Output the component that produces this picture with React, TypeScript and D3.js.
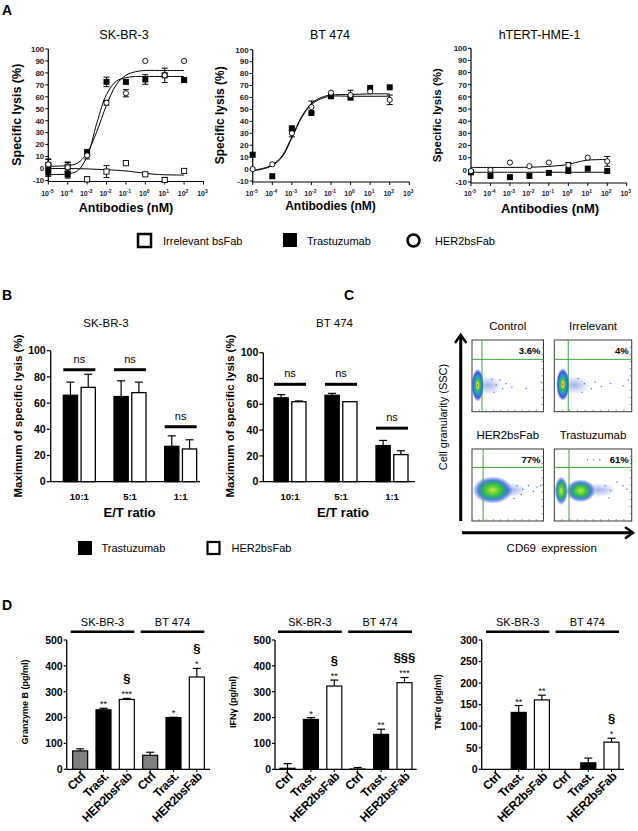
import React from 'react';
import * as d3 from 'd3';

const FONT = "'Liberation Sans', Arial, Helvetica, sans-serif";

// ---------------- Panel A data ----------------
const doseExps = [-5, -4, -3, -2, -1, 0, 1, 2];
const axisExps = [-5, -4, -3, -2, -1, 0, 1, 2, 3];
const lysisTicks = [-10, 0, 10, 20, 30, 40, 50, 60, 70, 80, 90, 100];

const skTrast = [-3.5, -5, 13, 72.5, 72.5, 74.5, 78, 74];
const skTrastErr = [3, 3, 3, 4, 1, 4, 6, 1];
const skHer2 = [3.5, 1, 11, 55, 63, 90, 78, 90];
const skHer2Err = [4, 4, 3, 2, 3, 1, 1, 1];
const skIrr = [3, 1.5, -9, -2.5, 4.5, -4.8, -9.5, -2];
const skIrrErr = [5, 4, 2, 5, 1, 1, 2, 1];
const skTrastFit = [[-5, -5], [-4.5, -5], [-4, -4.5], [-3.5, -2], [-3, 10], [-2.5, 38], [-2, 62], [-1.5, 73], [-1, 76], [-0.5, 77], [0, 77], [1, 77], [2, 77]];
const skHer2Fit = [[-5, 2], [-4, 2.5], [-3.5, 4.5], [-3, 13], [-2.5, 31], [-2, 53], [-1.5, 70], [-1, 78], [-0.5, 81], [0, 82], [1, 82], [2, 82]];
const skIrrFit = [[-5, 0], [-4, 0], [-3, -0.3], [-2, -1], [-1, -2], [-0.5, -3], [0, -4], [0.5, -4.8], [1, -5.2], [2, -5.5]];

const btTrast = [12, -6, 34, 47, 61, 60, 68, 68.5];
const btTrastErr = [1, 1, 2, 1, 1, 1, 1, 1];
const btHer2 = [0, 4, 30, 52, 64, 62, 65, 58];
const btHer2Err = [1, 1, 3, 5, 1, 4, 1, 4];
const btTrastFit = [[-5, -1], [-4.5, 0.5], [-4, 3.5], [-3.5, 11], [-3, 27], [-2.5, 44], [-2, 55], [-1.5, 60], [-1, 62], [0, 62.5], [1, 63], [2, 63]];
const btHer2Fit = [[-5, -1.5], [-4.5, 0], [-4, 3], [-3.5, 10], [-3, 26], [-2.5, 43], [-2, 54], [-1.5, 59], [-1, 61], [0, 61], [1, 61], [2, 61]];

const htTrast = [-2, -5, -6, -5, -2.5, -1, 1, -1];
const htTrastErr = [1, 1, 1, 1, 1, 1, 1, 1];
const htHer2 = [-1, 0, 6, 3, 6, 4, 10, 7];
const htHer2Err = [1, 1, 1, 1, 1, 2, 1, 4];
const htTrastFit = [[-5, -2], [-3, -2], [-1, -2], [0, -2], [1, -2], [2, -2]];
const htHer2Fit = [[-5, 2], [-3, 2], [-2, 2.2], [-1, 2.8], [0, 4.5], [0.5, 6.5], [1, 8], [2, 8.5]];

// ---------------- Panel B data ----------------
const etCats = ['10:1', '5:1', '1:1'];
const bSeries = ['Trastuzumab', 'HER2bsFab'];
const bLysisTicks = [0, 20, 40, 60, 80, 100];
const bSkTrast = [66, 65, 27];
const bSkTrastErr = [10, 12, 8];
const bSkHer2 = [72, 68, 25];
const bSkHer2Err = [10, 8, 7];
const bSkNs = [85.5, 85.5, 42];
const bBtTrast = [65, 67, 28];
const bBtTrastErr = [2.5, 1.5, 4];
const bBtHer2 = [62, 62, 21];
const bBtHer2Err = [0.6, 0, 3];
const bBtNs = [75.5, 75.5, 41.5];

// ---------------- Panel C data ----------------
const flowTitles = ['Control', 'Irrelevant', 'HER2bsFab', 'Trastuzumab'];
const flowPct = ['3.6%', '4%', '77%', '61%'];
const flowGateX = [0.14, 0.18, 0.155, 0.19];
const flowGateY = [0.73, 0.73, 0.745, 0.745];
// blobs: [cd69, ssc, spreadX, spreadY, palette]
const flowBlobs = [
  [[0.22, 0.37, 0.2, 0.13, 'sparse'], [0.08, 0.37, 0.085, 0.23, 'hot']],
  [[0.26, 0.37, 0.2, 0.13, 'sparse'], [0.11, 0.38, 0.085, 0.23, 'hot']],
  [[0.55, 0.43, 0.22, 0.1, 'sparse'], [0.29, 0.43, 0.28, 0.19, 'warm']],
  [[0.58, 0.43, 0.22, 0.1, 'sparse'], [0.34, 0.42, 0.19, 0.16, 'warm'], [0.09, 0.42, 0.085, 0.2, 'warm']],
];
const flowSpecks = [
  [[0.33, 0.38], [0.42, 0.33], [0.55, 0.35], [0.75, 0.33], [0.96, 0.42], [0.3, 0.28], [0.38, 0.45], [0.27, 0.46], [0.47, 0.4]],
  [[0.38, 0.4], [0.47, 0.33], [0.6, 0.36], [0.72, 0.4], [0.88, 0.37], [0.95, 0.45], [0.35, 0.28], [0.3, 0.47], [0.52, 0.42]],
  [[0.62, 0.5], [0.7, 0.45], [0.78, 0.5], [0.85, 0.42], [0.9, 0.48], [0.68, 0.38], [0.95, 0.5], [0.58, 0.32]],
  [[0.65, 0.5], [0.72, 0.43], [0.8, 0.55], [0.88, 0.5], [0.93, 0.45], [0.42, 0.86], [0.5, 0.86], [0.58, 0.86], [0.7, 0.33]],
];

// ---------------- Panel D data ----------------
const dCats = ['Ctrl', 'Trast.', 'HER2bsFab', 'Ctrl', 'Trast.', 'HER2bsFab'];
const dGroups = ['SK-BR-3', 'BT 474'];
const gzb = [71, 230, 270, 54, 200, 357];
const gzbErr = [8, 6, 4, 12, 1, 33];
const gzbStars = ['', '**', '***', '', '*', '*'];
const gzbSects = ['', '', '§', '', '', '§'];
const ifn = [4, 193, 322, 1, 135, 335];
const ifnErr = [18, 7, 23, 6, 20, 20];
const ifnStars = ['', '*', '**', '', '**', '***'];
const ifnSects = ['', '', '§', '', '', '§§§'];
const tnf = [0, 132, 161, 0, 15, 63];
const tnfErr = [0, 16, 11, 0, 11, 9];
const tnfStars = ['', '**', '**', '', '', '*'];
const tnfSects = ['', '', '', '', '', '§'];
const gzbTicks = [0, 100, 200, 300, 400, 500];
const tnfTicks = [0, 50, 100, 150, 200, 250, 300];

const barFill = ['#808080', '#000', '#fff', '#808080', '#000', '#fff'];

// ============ Components ============

function DoseChart(p) {
  const x = d3.scaleLog().domain([1e-5, 1e3]).range([p.left, p.right]);
  const y = d3.scaleLinear().domain([-10, 100]).range([p.bottom, p.top]);
  const line = d3.line().x(d => x(Math.pow(10, d[0]))).y(d => y(d[1])).curve(d3.curveCatmullRom);
  const xAxisY = p.bottom + 1;
  const errBar = (vals, errs, key) => vals.map((v, i) => {
    const cx = x(Math.pow(10, doseExps[i]));
    const e = errs[i];
    if (e < 1.5) return null;
    return (
      <g key={key + i} stroke="#000" strokeWidth={1}>
        <line x1={cx} x2={cx} y1={y(v - e)} y2={y(v + e)} />
        <line x1={cx - 3} x2={cx + 3} y1={y(v - e)} y2={y(v - e)} />
        <line x1={cx - 3} x2={cx + 3} y1={y(v + e)} y2={y(v + e)} />
      </g>
    );
  });
  return (
    <g fontFamily={FONT}>
      <text x={p.titleX} y={39} fontSize={12.5} textAnchor="middle">{p.title}</text>
      <line x1={p.left} x2={p.left} y1={p.top} y2={xAxisY} stroke="#000" strokeWidth={1.2} />
      {lysisTicks.map(t => (
        <g key={'yt' + t}>
          <line x1={p.left - 3} x2={p.left} y1={y(t)} y2={y(t)} stroke="#000" />
          <text x={p.left - 4} y={y(t)} dy="0.35em" fontSize={8} fontWeight="bold" textAnchor="end" fill="#1a1a33">{t}</text>
        </g>
      ))}
      <line x1={p.left} x2={p.right} y1={xAxisY} y2={xAxisY} stroke="#000" strokeWidth={1.2} />
      {axisExps.map(e => (
        <g key={'xt' + e}>
          <line x1={x(Math.pow(10, e))} x2={x(Math.pow(10, e))} y1={xAxisY} y2={xAxisY + 3} stroke="#000" />
          <text x={x(Math.pow(10, e)) - 1} y={195.5} fontSize={7} fontWeight="bold" textAnchor="middle" fill="#1a1a33">
            10<tspan dy={-2.5} fontSize={5}>{e}</tspan>
          </text>
        </g>
      ))}
      <text transform={`translate(${p.ylabelX},${(p.top + p.bottom) / 2}) rotate(-90)`} fontSize={p.ylabelSize} fontWeight="bold" textAnchor="middle" dy="0.35em">Specific lysis (%)</text>
      <text x={p.xlabelX} y={p.xlabelY} fontSize={p.xlabelSize} fontWeight="bold" textAnchor="middle">{p.xlabelText}</text>
      {p.fits.map((f, i) => (
        <path key={'f' + i} d={line(f)} fill="none" stroke="#000" strokeWidth={1} />
      ))}
      {p.irr && errBar(p.irr, p.irrErr, 'ie')}
      {errBar(p.trast, p.trastErr, 'te')}
      {errBar(p.her2, p.her2Err, 'he')}
      {p.irr && p.irr.map((v, i) => (
        <rect key={'ir' + i} x={x(Math.pow(10, doseExps[i])) - 2.6} y={y(v) - 2.6} width={5.2} height={5.2} fill="#fff" stroke="#000" strokeWidth={0.9} />
      ))}
      {p.trast.map((v, i) => (
        <rect key={'tr' + i} x={x(Math.pow(10, doseExps[i])) - 3} y={y(v) - 3} width={6} height={6} fill="#000" />
      ))}
      {p.her2.map((v, i) => (
        <circle key={'hr' + i} cx={x(Math.pow(10, doseExps[i]))} cy={y(v)} r={2.6} fill="#fff" stroke="#000" strokeWidth={0.9} />
      ))}
    </g>
  );
}

function BarChartB(p) {
  const xb = d3.scaleBand().domain(etCats).range([p.bandStart, p.bandEnd]);
  const y = d3.scaleLinear().domain([0, 100]).range([p.zeroY, p.topY]);
  const inner = d3.scaleBand().domain(bSeries).range([-16, 16]).paddingInner(0.2);
  const series = [
    { vals: p.trast, errs: p.trastErr, fill: '#000' },
    { vals: p.her2, errs: p.her2Err, fill: '#fff' },
  ];
  return (
    <g fontFamily={FONT}>
      <text x={p.titleX} y={327} fontSize={11.5} textAnchor="middle">{p.title}</text>
      <line x1={p.left} x2={p.left} y1={p.topY} y2={p.zeroY} stroke="#000" strokeWidth={1.3} />
      <line x1={p.left} x2={p.right} y1={p.zeroY} y2={p.zeroY} stroke="#000" strokeWidth={1.3} />
      {bLysisTicks.map(t => (
        <g key={'t' + t}>
          <line x1={p.left - 4} x2={p.left} y1={y(t)} y2={y(t)} stroke="#000" strokeWidth={1.2} />
          <text x={p.left - 5} y={y(t)} dy="0.35em" fontSize={10.5} fontWeight="bold" textAnchor="end">{t}</text>
        </g>
      ))}
      {etCats.map((c, ci) => {
        const cx = xb(c) + xb.bandwidth() / 2;
        const x0 = cx + inner(bSeries[0]);
        const x1 = cx + inner(bSeries[1]) + inner.bandwidth();
        return (
          <g key={c}>
            <text x={cx} y={500} fontSize={9.5} fontWeight="bold" textAnchor="middle">{c}</text>
            {series.map((s, si) => {
              const bx = cx + inner(bSeries[si]);
              const bw = inner.bandwidth();
              const v = s.vals[ci];
              const e = s.errs[ci];
              return (
                <g key={si}>
                  {e > 0 && (
                    <g stroke="#000" strokeWidth={1.2}>
                      <line x1={bx + bw / 2} x2={bx + bw / 2} y1={y(v)} y2={y(v + e)} />
                      <line x1={bx + bw / 2 - 4} x2={bx + bw / 2 + 4} y1={y(v + e)} y2={y(v + e)} />
                    </g>
                  )}
                  <rect x={bx} y={y(v)} width={bw} height={p.zeroY - y(v)} fill={s.fill} stroke="#000" strokeWidth={1.3} />
                </g>
              );
            })}
            <line x1={x0} x2={x1} y1={y(p.ns[ci])} y2={y(p.ns[ci])} stroke="#000" strokeWidth={3} />
            <text x={(x0 + x1) / 2} y={y(p.ns[ci]) - 7} fontSize={11} textAnchor="middle">ns</text>
          </g>
        );
      })}
      <text transform={`translate(${p.ylabelX},${416}) rotate(-90)`} fontSize={11.5} fontWeight="bold" textAnchor="middle" dy="0.35em">Maximum of specific lysis (%)</text>
      <text x={p.xlabelX} y={516.5} fontSize={13} fontWeight="bold" textAnchor="middle">E/T ratio</text>
    </g>
  );
}

function FlowPlot(p) {
  const { x0, x1, y0, y1, idx } = p;
  const xs = d3.scaleLinear().domain([0, 1]).range([x0, x1]);
  const ys = d3.scaleLinear().domain([0, 1]).range([y1, y0]);
  const minor = xs.ticks(14);
  const minorY = ys.ticks(10);
  return (
    <g fontFamily={FONT}>
      <text x={(x0 + x1) / 2} y={y0 - 10} fontSize={11.5} textAnchor="middle">{flowTitles[idx]}</text>
      <rect x={x0} y={y0} width={x1 - x0} height={y1 - y0} fill="#fff" stroke="#3a3a3a" strokeWidth={1} />
      {minor.map((t, i) => (
        <line key={'mx' + i} x1={xs(t)} x2={xs(t)} y1={y1} y2={y1 - 2} stroke="#555" strokeWidth={0.6} />
      ))}
      {minorY.map((t, i) => (
        <line key={'my' + i} x1={x1} x2={x1 - 2} y1={ys(t)} y2={ys(t)} stroke="#555" strokeWidth={0.6} />
      ))}
      {flowBlobs[idx].map((b, i) => (
        <ellipse key={'b' + i} cx={xs(b[0])} cy={ys(b[1])} rx={(x1 - x0) * b[2]} ry={(y1 - y0) * b[3]} fill={`url(#grad-${b[4]})`} />
      ))}
      {flowSpecks[idx].map((s, i) => (
        <rect key={'s' + i} x={xs(s[0])} y={ys(s[1])} width={1.2} height={1.2} fill="#4060d0" />
      ))}
      <line x1={xs(flowGateX[idx])} x2={xs(flowGateX[idx])} y1={y0} y2={y1} stroke="#3aa63a" strokeWidth={1} />
      <line x1={x0} x2={x1} y1={ys(flowGateY[idx])} y2={ys(flowGateY[idx])} stroke="#3aa63a" strokeWidth={1} />
      <text x={x1 - 3} y={y0 + 14} fontSize={9.5} fontWeight="bold" textAnchor="end">{flowPct[idx]}</text>
    </g>
  );
}

function CytoChart(p) {
  const band = d3.scaleBand().domain(d3.range(dCats.length)).range([p.bandStart, p.bandEnd]);
  const y = d3.scaleLinear().domain([0, p.ticks[p.ticks.length - 1]]).range([769.3, 640]);
  const bw = 15;
  const cxs = dCats.map((c, i) => band(i) + band.bandwidth() / 2);
  return (
    <g fontFamily={FONT}>
      {dGroups.map((g, gi) => {
        const a = cxs[gi * 3] - bw / 2 - 2;
        const b = cxs[gi * 3 + 2] + bw / 2;
        return (
          <g key={g}>
            <line x1={a} x2={b} y1={631.7} y2={631.7} stroke="#000" strokeWidth={2.5} />
            <text x={(a + b) / 2} y={626} fontSize={11} textAnchor="middle">{g}</text>
          </g>
        );
      })}
      <line x1={p.left} x2={p.left} y1={640} y2={769.3} stroke="#000" strokeWidth={1.3} />
      <line x1={p.left} x2={p.right} y1={769.3} y2={769.3} stroke="#000" strokeWidth={1.3} />
      {p.ticks.map(t => (
        <g key={'t' + t}>
          <line x1={p.left - 3} x2={p.left} y1={y(t)} y2={y(t)} stroke="#000" strokeWidth={1.2} />
          <text x={p.left - 4} y={y(t)} dy="0.36em" fontSize={10.5} fontWeight="bold" textAnchor="end">{t}</text>
        </g>
      ))}
      {p.vals.map((v, i) => {
        const cx = cxs[i];
        const e = p.errs[i];
        const top = y(v + e);
        return (
          <g key={'b' + i}>
            {e > 0 && (
              <g stroke="#000" strokeWidth={1.2}>
                <line x1={cx} x2={cx} y1={y(v)} y2={top} />
                <line x1={cx - 4} x2={cx + 4} y1={top} y2={top} />
              </g>
            )}
            {v > 0 && <rect x={cx - bw / 2} y={y(v)} width={bw} height={769.3 - y(v)} fill={barFill[i]} stroke="#000" strokeWidth={1.2} />}
            <line x1={cx} x2={cx} y1={769.3} y2={772} stroke="#000" strokeWidth={1} />
            {p.stars[i] && <text x={cx} y={top - 1} fontSize={9} textAnchor="middle">{p.stars[i]}</text>}
            {p.sects[i] && <text x={cx} y={top - 15} fontSize={13} fontWeight="bold" textAnchor="middle">{p.sects[i]}</text>}
            <text transform={`translate(${cx + 6},${777}) rotate(-45)`} fontSize={12} fontWeight="bold" textAnchor="end" letterSpacing={-0.3}>{dCats[i]}</text>
          </g>
        );
      })}
      <text transform={`translate(${p.ylabelX},${702}) rotate(-90)`} fontSize={9} fontWeight="bold" textAnchor="middle" dy="0.35em">{p.ylabel}</text>
    </g>
  );
}

export default function App() {
  return (
    <svg width={638} height={831} style={{ position: 'absolute', left: 0, top: 0, background: '#fff' }} fontFamily={FONT}>
      <defs>
        <radialGradient id="grad-hot">
          <stop offset="0%" stopColor="#d81e1e" />
          <stop offset="14%" stopColor="#f2e21e" />
          <stop offset="32%" stopColor="#3cc23c" />
          <stop offset="55%" stopColor="#1e9ae0" />
          <stop offset="78%" stopColor="#1e3cd2" stopOpacity={0.85} />
          <stop offset="100%" stopColor="#1e3cd2" stopOpacity={0} />
        </radialGradient>
        <radialGradient id="grad-warm">
          <stop offset="0%" stopColor="#d4ea2a" />
          <stop offset="25%" stopColor="#6ad23a" />
          <stop offset="50%" stopColor="#2cb45a" />
          <stop offset="72%" stopColor="#1e64d2" stopOpacity={0.8} />
          <stop offset="100%" stopColor="#1e3cd2" stopOpacity={0} />
        </radialGradient>
        <radialGradient id="grad-sparse">
          <stop offset="0%" stopColor="#3050d0" stopOpacity={0.45} />
          <stop offset="100%" stopColor="#3050d0" stopOpacity={0} />
        </radialGradient>
      </defs>
      <rect x={0} y={0} width={638} height={831} fill="#fff" />

      <text x={2} y={15} fontSize={14} fontWeight="bold">A</text>
      <text x={2} y={300} fontSize={14} fontWeight="bold">B</text>
      <text x={344} y={300} fontSize={14} fontWeight="bold">C</text>
      <text x={2} y={610} fontSize={14} fontWeight="bold">D</text>

      <DoseChart left={48.3} right={203.5} top={49} bottom={180.5} title="SK-BR-3" titleX={124}
        trast={skTrast} trastErr={skTrastErr} her2={skHer2} her2Err={skHer2Err} irr={skIrr} irrErr={skIrrErr}
        fits={[skTrastFit, skHer2Fit, skIrrFit]} ylabelX={17} ylabelSize={12.5}
        xlabelX={126} xlabelY={211.5} xlabelSize={12.5} xlabelText="Antibodies (nM)" />
      <DoseChart left={252.7} right={409.3} top={49.7} bottom={181} title="BT 474" titleX={330}
        trast={btTrast} trastErr={btTrastErr} her2={btHer2} her2Err={btHer2Err}
        fits={[btTrastFit, btHer2Fit]} ylabelX={220} ylabelSize={12}
        xlabelX={330.5} xlabelY={210} xlabelSize={12} xlabelText="Antibodies (nM)" />
      <DoseChart left={471} right={626.7} top={48.3} bottom={182} title="hTERT-HME-1" titleX={539.5}
        trast={htTrast} trastErr={htTrastErr} her2={htHer2} her2Err={htHer2Err}
        fits={[htTrastFit, htHer2Fit]} ylabelX={437} ylabelSize={11.5}
        xlabelX={550} xlabelY={212.5} xlabelSize={13} xlabelText="Antibodies (nM)" />

      <g fontFamily={FONT} fontSize={11}>
        <rect x={138} y={234} width={13} height={13} fill="#fff" stroke="#000" strokeWidth={2.5} />
        <text x={163} y={245}>Irrelevant  bsFab</text>
        <rect x={283} y={233} width={14} height={14} fill="#000" />
        <text x={307} y={245}>Trastuzumab</text>
        <circle cx={413.5} cy={240.5} r={6} fill="#fff" stroke="#000" strokeWidth={2.5} />
        <text x={435} y={245}>HER2bsFab</text>
      </g>

      <BarChartB left={50.7} right={200} bandStart={54} bandEnd={206} topY={350.7} zeroY={481.7}
        title="SK-BR-3" titleX={106} trast={bSkTrast} trastErr={bSkTrastErr} her2={bSkHer2} her2Err={bSkHer2Err}
        ns={bSkNs} ylabelX={18} xlabelX={129.5} />
      <BarChartB left={263.3} right={415} bandStart={264.5} bandEnd={417.5} topY={352.7} zeroY={481.7}
        title="BT 474" titleX={334.5} trast={bBtTrast} trastErr={bBtTrastErr} her2={bBtHer2} her2Err={bBtHer2Err}
        ns={bBtNs} ylabelX={230} xlabelX={343} />
      <g fontFamily={FONT} fontSize={11}>
        <rect x={78} y={541} width={14} height={14} fill="#000" />
        <text x={101.5} y={552}>Trastuzumab</text>
        <rect x={207.5} y={542} width={12} height={12} fill="#fff" stroke="#000" strokeWidth={2.2} />
        <text x={231.5} y={552}>HER2bsFab</text>
      </g>

      <FlowPlot idx={0} x0={472} x1={543.5} y0={340} y1={411.7} />
      <FlowPlot idx={1} x0={554.3} x1={631.7} y0={340} y1={411.7} />
      <FlowPlot idx={2} x0={472} x1={543.5} y0={449} y1={521} />
      <FlowPlot idx={3} x0={554.3} x1={631.7} y0={449} y1={521} />
      <g stroke="#000" strokeWidth={3} fill="none">
        <line x1={460.7} x2={460.7} y1={521} y2={336} />
        <polyline points="455,343 460.7,335 466.4,343" strokeWidth={2.5} />
        <line x1={462} x2={632} y1={532.7} y2={532.7} />
        <polyline points="625,527 633,532.7 625,538.4" strokeWidth={2.5} />
      </g>
      <text transform="translate(443,417) rotate(-90)" fontSize={11} textAnchor="middle" dy="0.35em" fontFamily={FONT}>Cell granularity (SSC)</text>
      <text x={551.7} y={552} fontSize={11.5} textAnchor="middle" fontFamily={FONT} wordSpacing={2}>CD69 expression</text>

      <CytoChart left={66.7} right={210} bandStart={68.5} bandEnd={208.5} ticks={gzbTicks}
        vals={gzb} errs={gzbErr} stars={gzbStars} sects={gzbSects} ylabel="Granzyme B (pg/ml)" ylabelX={25} />
      <CytoChart left={275} right={416.7} bandStart={275.8} bandEnd={416.2} ticks={gzbTicks}
        vals={ifn} errs={ifnErr} stars={ifnStars} sects={ifnSects} ylabel="IFNγ (pg/ml)" ylabelX={233.3} />
      <CytoChart left={481.7} right={624} bandStart={483.9} bandEnd={623.1} ticks={tnfTicks}
        vals={tnf} errs={tnfErr} stars={tnfStars} sects={tnfSects} ylabel="TNFα (pg/ml)" ylabelX={438.3} />
    </svg>
  );
}
